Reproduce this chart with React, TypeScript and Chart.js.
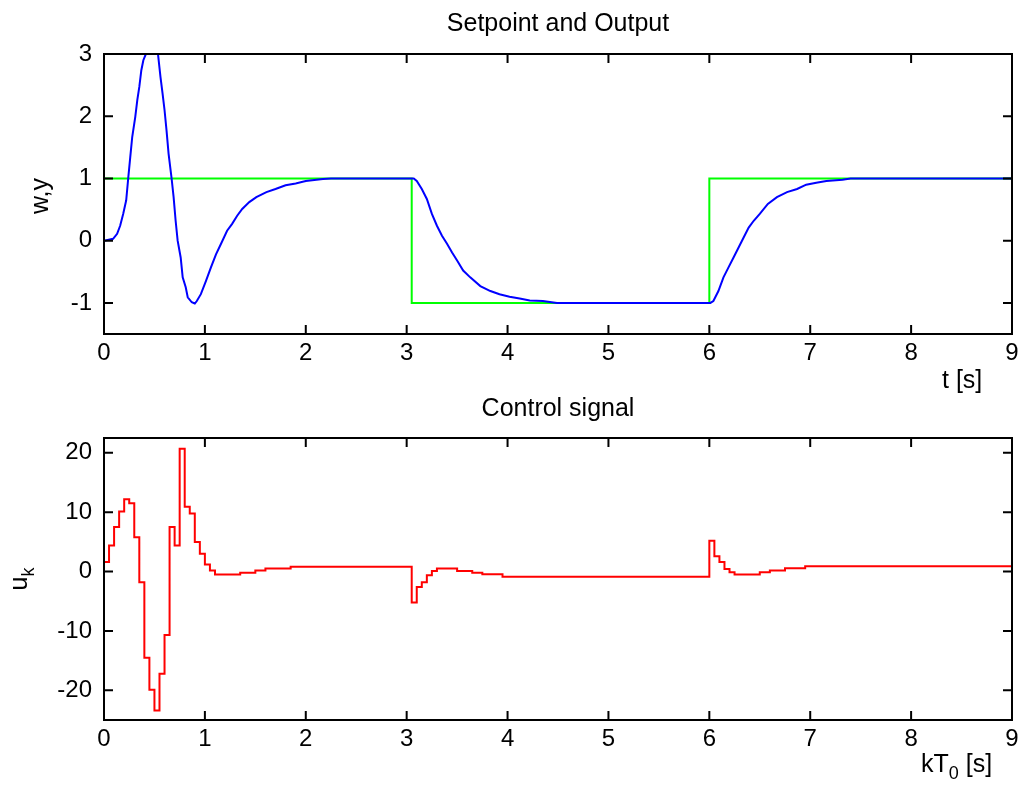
import { useEffect, useRef } from "react";
import { Chart, registerables } from "chart.js";

Chart.register(...registerables);

// Axis ticks
const timeTicks = [0, 1, 2, 3, 4, 5, 6, 7, 8, 9];
const outputTicks = [-1, 0, 1, 2, 3];
const controlTicks = [-20, -10, 0, 10, 20];

// Setpoint w (held between change points)
const setpointTimes = [0, 3.05, 6.0, 9];
const setpointValues = [1, -1, 1, 1];

// Process output y
const outputTimes = [
  0, 0.09, 0.13, 0.16, 0.19, 0.22, 0.24, 0.26, 0.28, 0.31, 0.33, 0.35, 0.37, 0.39, 0.415,
  0.475, 0.535, 0.56, 0.58, 0.6, 0.62, 0.64, 0.67, 0.69, 0.71, 0.73, 0.76, 0.78, 0.81, 0.83,
  0.87, 0.9, 0.92, 0.96, 1.01, 1.06, 1.11, 1.16, 1.22, 1.27, 1.32, 1.37, 1.44, 1.51, 1.61,
  1.7, 1.8, 1.9, 2.0, 2.17, 2.25, 3.07, 3.1, 3.15, 3.2, 3.25, 3.3, 3.35, 3.4, 3.45, 3.5,
  3.56, 3.63, 3.73, 3.83, 3.92, 4.02, 4.12, 4.22, 4.35, 4.49, 6.01, 6.04, 6.09, 6.14, 6.19,
  6.24, 6.29, 6.34, 6.39, 6.44, 6.5, 6.58, 6.67, 6.77, 6.87, 6.96, 7.06, 7.16, 7.32, 7.4, 9,
];
const outputValues = [
  0, 0.03, 0.11, 0.24, 0.43, 0.65, 1.0, 1.34, 1.67, 1.99, 2.26, 2.47, 2.74, 2.9, 3.0,
  3.2, 3.0, 2.63, 2.37, 2.1, 1.77, 1.4, 1.0, 0.7, 0.32, 0.0, -0.27, -0.59, -0.75, -0.91,
  -0.99, -1.01, -0.97, -0.86, -0.65, -0.43, -0.22, -0.05, 0.16, 0.27, 0.4, 0.51, 0.62, 0.7, 0.78,
  0.83, 0.89, 0.92, 0.96, 0.99, 1.0, 1.0, 0.96, 0.83, 0.67, 0.43, 0.24, 0.08, -0.05, -0.19, -0.32,
  -0.48, -0.59, -0.73, -0.81, -0.86, -0.9, -0.93, -0.96, -0.97, -1.0, -1.0, -0.97, -0.81, -0.59, -0.43,
  -0.27, -0.11, 0.05, 0.21, 0.32, 0.43, 0.59, 0.7, 0.78, 0.83, 0.9, 0.93, 0.96, 0.98, 1.0, 1.0,
];

// Control signal u_k (zero-order hold, sample time 0.05 s)
const controlTimes = [
  0, 0.05, 0.1, 0.15, 0.2, 0.25, 0.3, 0.35, 0.4, 0.45, 0.5, 0.55, 0.6, 0.65, 0.7, 0.75,
  0.8, 0.85, 0.9, 0.95, 1.0, 1.05, 1.1, 1.35, 1.5, 1.6, 1.85, 3.05, 3.1, 3.15, 3.2, 3.25,
  3.3, 3.5, 3.65, 3.75, 3.95, 6.0, 6.05, 6.1, 6.15, 6.2, 6.25, 6.5, 6.6, 6.75, 6.95, 9.0,
];
const controlValues = [
  1.6, 4.4, 7.5, 10.1, 12.2, 11.5, 5.8, -1.8, -14.5, -19.9, -23.4, -17.2, -10.7, 7.5, 4.4, 20.7,
  10.9, 9.8, 5.0, 3.0, 1.2, 0.2, -0.5, -0.2, 0.17, 0.5, 0.8, -5.2, -2.6, -1.8, -0.6, 0.1,
  0.5, 0.1, -0.2, -0.45, -0.85, 5.2, 2.6, 1.6, 0.45, -0.1, -0.5, -0.1, 0.2, 0.55, 0.9, 0.9,
];

const FONT = '"Liberation Sans", Arial, Helvetica, sans-serif';

const toPoints = (xs: number[], ys: number[]) => xs.map((x, i) => ({ x, y: ys[i] }));

// Closed axes box with inward tick marks on all four sides
const boxPlugin = {
  id: "boxTicks",
  afterDatasetsDraw(chart: any) {
    const { ctx, chartArea: a, scales } = chart;
    const len = 9;
    ctx.save();
    ctx.strokeStyle = "#000";
    ctx.lineWidth = 2;
    ctx.strokeRect(a.left, a.top, a.right - a.left, a.bottom - a.top);
    ctx.beginPath();
    scales.x.ticks.forEach((t: any) => {
      const px = scales.x.getPixelForValue(t.value);
      ctx.moveTo(px, a.bottom);
      ctx.lineTo(px, a.bottom - len);
      ctx.moveTo(px, a.top);
      ctx.lineTo(px, a.top + len);
    });
    scales.y.ticks.forEach((t: any) => {
      const py = scales.y.getPixelForValue(t.value);
      ctx.moveTo(a.left, py);
      ctx.lineTo(a.left + len, py);
      ctx.moveTo(a.right, py);
      ctx.lineTo(a.right - len, py);
    });
    ctx.stroke();
    ctx.restore();
  },
};

type Piece = { text: string; sub?: boolean };

function drawPieces(ctx: CanvasRenderingContext2D, pieces: Piece[], x: number, y: number, align: "left" | "center") {
  const main = `25px ${FONT}`;
  const small = `18px ${FONT}`;
  const widths = pieces.map((p) => {
    ctx.font = p.sub ? small : main;
    return ctx.measureText(p.text).width;
  });
  const total = widths.reduce((s, w) => s + w, 0);
  let cx = align === "center" ? x - total / 2 : x;
  ctx.textAlign = "left";
  ctx.textBaseline = "middle";
  pieces.forEach((p, i) => {
    ctx.font = p.sub ? small : main;
    ctx.fillText(p.text, cx, p.sub ? y + 9 : y);
    cx += widths[i];
  });
}

function labelPlugin(title: string, xLabel: Piece[], xLabelPos: [number, number], yLabel: Piece[], yLabelPos: [number, number], titleY: number) {
  return {
    id: "axisLabels",
    afterDraw(chart: any) {
      const { ctx, chartArea: a } = chart;
      ctx.save();
      ctx.fillStyle = "#000";
      drawPieces(ctx, [{ text: title }], (a.left + a.right) / 2, titleY, "center");
      drawPieces(ctx, xLabel, xLabelPos[0], xLabelPos[1], "left");
      ctx.translate(yLabelPos[0], yLabelPos[1]);
      ctx.rotate(-Math.PI / 2);
      drawPieces(ctx, yLabel, 0, 0, "center");
      ctx.restore();
    },
  };
}

function scaleOptions(yMin: number, yMax: number, yTicks: number[]) {
  const tickFont = { family: FONT, size: 24 };
  return {
    x: {
      type: "linear",
      min: 0,
      max: 9,
      afterBuildTicks: (s: any) => {
        s.ticks = timeTicks.map((v) => ({ value: v }));
      },
      afterFit: (s: any) => {
        s.height = 50;
      },
      grid: { display: false, drawTicks: false },
      border: { display: false },
      ticks: { padding: 5, color: "#000", font: tickFont, maxRotation: 0, autoSkip: false, callback: (v: any) => String(v) },
    },
    y: {
      type: "linear",
      min: yMin,
      max: yMax,
      afterBuildTicks: (s: any) => {
        s.ticks = yTicks.map((v) => ({ value: v }));
      },
      afterFit: (s: any) => {
        s.width = 104;
      },
      grid: { display: false, drawTicks: false },
      border: { display: false },
      ticks: { padding: 12, color: "#000", font: tickFont, autoSkip: false, callback: (v: any) => String(v) },
    },
  };
}

export default function App() {
  const topRef = useRef<HTMLCanvasElement>(null);
  const bottomRef = useRef<HTMLCanvasElement>(null);

  useEffect(() => {
    const common = {
      animation: false,
      responsive: false,
      devicePixelRatio: 1,
      events: [],
      plugins: { legend: { display: false }, tooltip: { enabled: false }, title: { display: false } },
    };

    const top = new Chart(topRef.current!, {
      type: "line",
      data: {
        datasets: [
          {
            label: "y",
            data: toPoints(outputTimes, outputValues),
            borderColor: "#0000ff",
            borderWidth: 2,
            pointRadius: 0,
            tension: 0,
          },
          {
            label: "w",
            data: toPoints(setpointTimes, setpointValues),
            borderColor: "#00ff00",
            borderWidth: 2,
            pointRadius: 0,
            stepped: true,
          },
        ],
      },
      options: {
        ...common,
        layout: { autoPadding: false, padding: { top: 54, right: 13, bottom: 9, left: 0 } },
        scales: scaleOptions(-1.5, 3, outputTicks),
      } as any,
      plugins: [boxPlugin, labelPlugin("Setpoint and Output", [{ text: "t [s]" }], [942, 381], [{ text: "w,y" }], [41, 196], 24)],
    });

    const bottom = new Chart(bottomRef.current!, {
      type: "line",
      data: {
        datasets: [
          {
            label: "u",
            data: toPoints(controlTimes, controlValues),
            borderColor: "#ff0000",
            borderWidth: 2,
            pointRadius: 0,
            stepped: true,
          },
        ],
      },
      options: {
        ...common,
        layout: { autoPadding: false, padding: { top: 45, right: 13, bottom: 17, left: 0 } },
        scales: scaleOptions(-25, 22.5, controlTicks),
      } as any,
      plugins: [
        boxPlugin,
        labelPlugin(
          "Control signal",
          [{ text: "kT" }, { text: "0", sub: true }, { text: " [s]" }],
          [921, 372],
          [{ text: "u" }, { text: "k", sub: true }],
          [20, 186],
          16
        ),
      ],
    });

    return () => {
      top.destroy();
      bottom.destroy();
    };
  }, []);

  return (
    <div style={{ position: "fixed", left: 0, top: 0, width: 1025, height: 787, background: "#fff" }}>
      <canvas ref={topRef} width={1025} height={393} style={{ position: "absolute", left: 0, top: 0, display: "block" }} />
      <canvas ref={bottomRef} width={1025} height={394} style={{ position: "absolute", left: 0, top: 393, display: "block" }} />
    </div>
  );
}
